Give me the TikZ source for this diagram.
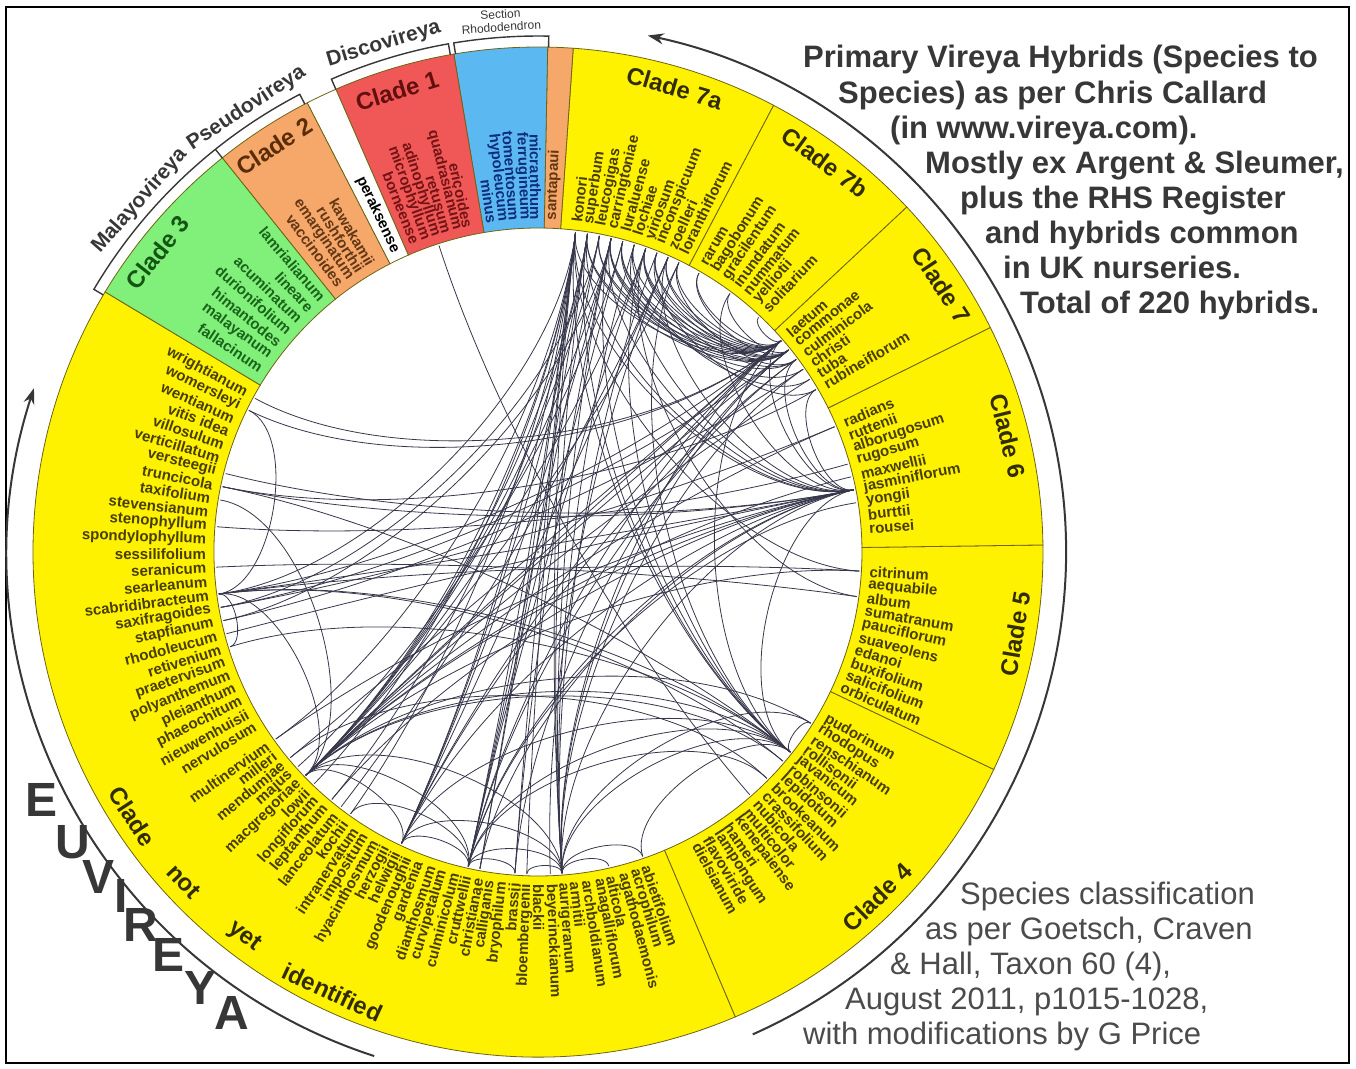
\documentclass[tikz,border=0pt]{standalone}
\usepackage{fontspec}
\setmainfont{Liberation Sans}
\usetikzlibrary{arrows.meta}

\definecolor{ringyellow}{RGB}{255,242,0}
\definecolor{cladegreen}{RGB}{128,240,122}
\definecolor{cladeorange}{RGB}{246,168,106}
\definecolor{cladered}{RGB}{240,88,88}
\definecolor{cladeblue}{RGB}{92,184,240}
\definecolor{ringline}{RGB}{110,100,20}
\definecolor{nameolive}{RGB}{72,62,0}
\definecolor{namegreen}{RGB}{25,100,25}
\definecolor{namebrown}{RGB}{100,55,20}
\definecolor{namered}{RGB}{115,20,20}
\definecolor{nameblue}{RGB}{15,45,125}
\definecolor{labelolive}{RGB}{50,45,0}
\definecolor{labelgreen}{RGB}{20,85,20}
\definecolor{labelbrown}{RGB}{90,45,10}
\definecolor{labelred}{RGB}{100,15,15}
\definecolor{chordgrey}{RGB}{55,55,75}
\definecolor{textgrey}{RGB}{55,55,55}

\tikzset{
  sector/.style={draw=ringline, line width=0.8pt},
  species/.style={font=\bfseries\fontsize{15}{15}\selectfont, inner sep=0pt},
  cladelabel/.style={font=\bfseries\fontsize{24}{24}\selectfont, inner sep=0pt},
  bracketlabel/.style={font=\bfseries\fontsize{21}{21}\selectfont, text=textgrey, inner sep=0pt},
  smalllabel/.style={font=\fontsize{12}{12}\selectfont, text=textgrey, inner sep=0pt},
  hybrid/.style={draw=chordgrey, line width=0.8pt},
  bracket/.style={draw=textgrey, line width=1.4pt},
  title/.style={font=\bfseries\fontsize{31}{31}\selectfont, text=textgrey, anchor=base west, inner sep=0pt},
  source/.style={font=\fontsize{31}{31}\selectfont, text=textgrey!90, anchor=base west, inner sep=0pt},
  bigletter/.style={font=\bfseries\fontsize{48}{48}\selectfont, text=textgrey, inner sep=0pt}
}

\def\ringin{324}
\def\ringout{505}

% one coloured piece of the ring
\newcommand{\cladesector}[3]{%
  \filldraw[sector, fill=#3] (#1:\ringin) arc[start angle=#1, end angle=#2, radius=\ringin]
    -- (#2:\ringout) arc[start angle=#2, end angle=#1, radius=\ringout] -- cycle;}

% radial names: first angle, step, colour, names
\newcommand{\specieslist}[4]{%
  \foreach \nm [count=\k from 0] in {#4}{%
    \pgfmathsetmacro\ang{#1+(#2)*\k}%
    \expandafter\xdef\csname va@\nm\endcsname{\ang}%
    \coordinate (\nm) at (\ang:322);
    \pgfmathtruncatemacro\lefthalf{(mod(\ang+360,360)>90)&&(mod(\ang+360,360)<270)}%
    \ifnum\lefthalf=1
      \node[species, text=#3, rotate=\ang-180, anchor=east] (\nm-t) at (\ang:332) {\nm};
    \else
      \node[species, text=#3, rotate=\ang, anchor=west] (\nm-t) at (\ang:332) {\nm};
    \fi}}

% one hybrid between two species
\newcommand{\hyb}[2]{%
  \pgfmathsetmacro\hA{\csname va@#1\endcsname}%
  \pgfmathsetmacro\hB{\csname va@#2\endcsname}%
  \pgfmathsetmacro\hC{322*(1-0.6*abs(sin(((\hB)-(\hA))/2)))}%
  \draw[hybrid] (#1) .. controls (\hA:\hC) and (\hB:\hC) .. (#2);}

\begin{document}
\begin{tikzpicture}[x=1pt, y=1pt,
  arrowarc/.style={draw=textgrey, line width=2pt, -{Stealth[length=16pt,width=11pt]}}]
\useasboundingbox (-538,-516) rectangle (818,552);
\draw[line width=1.6pt] (-532,545) rectangle (811,-511);

% ring
\cladesector{149}{293}{ringyellow}
\cladesector{-67}{-25.5}{ringyellow}
\cladesector{-25.5}{0.8}{ringyellow}
\cladesector{0.8}{26.4}{ringyellow}
\cladesector{26.4}{43.1}{ringyellow}
\cladesector{43.1}{62.2}{ringyellow}
\cladesector{62.2}{86}{ringyellow}
\cladesector{86}{88.9}{cladeorange}
\cladesector{88.9}{99.6}{cladeblue}
\cladesector{99.6}{113.6}{cladered}
\cladesector{113.6}{117.2}{white}
\cladesector{117.2}{128.7}{cladeorange}
\cladesector{128.7}{149}{cladegreen}

% names
\specieslist{151.5}{2.4}{nameolive}{wrightianum,womersleyi,wentianum,vitis idea,villosulum,
verticillatum,versteegii,truncicola,taxifolium,stevensianum,stenophyllum,spondylophyllum,
sessilifolium,seranicum,searleanum,scabridibracteum,saxifragoides,stapfianum,rhodoleucum,
retivenium,praetervisum,polyanthemum,pleianthum,phaeochitum,nieuwenhuisii,nervulosum}
\specieslist{215.5}{2.1}{nameolive}{multinervium,milleri,mendumiae,majus,macgregoriae,lowii,
longiflorum,leptanthum,lanceolatum,kochii,intranervatum,impositum,hyacinthosmum,herzogii,
helwigii,goodenoughii,gardenia,dianthosmum,curvipetalum,culminicolum,cruttwellii,christianae,
calliganis,bryophilum,brassii,bloembergenii,blackii,beyerinckianum,aurigeranum,armitii,
archboldianum,anagalliflorum,alticola,agathodaemonis,acrophilum,abietifolium}
\specieslist{-30}{-2.1}{nameolive}{pudorinum,rhodopus,renschianum,rollisonii,javanicum,
robinsonii,lepidotum,brookeanum,crassifolium,nubicola,multicolor,kenepaiense,hameri,
lampongum,flavoviride,dielsianum}
\specieslist{-3.4}{-2.28}{nameolive}{citrinum,aequabile,album,sumatranum,pauciflorum,
suaveolens,edanoi,buxifolium,salicifolium,orbiculatum}
\specieslist{22.9}{-2.35}{nameolive}{radians,ruttenii,alborugosum,rugosum,maxwellii,
jasminiflorum,yongii,burttii,rousei}
\specieslist{41}{-2.14}{nameolive}{laetum,commonae,culminicola,christi,tuba,rubineiflorum}
\specieslist{60}{-2.2}{nameolive}{rarum,bagobonum,gracilentum,inundatum,nummatum,yelliotii,solitarium}
\specieslist{83.3}{-2.14}{nameolive}{konori,superbum,leucogigas,carringtoniae,luraluense,
lochiae,viriosum,inconspicuum,zoelleri,loranthiflorum}
\specieslist{87.6}{0}{namebrown}{santapaui}
\specieslist{90.4}{1.9}{nameblue}{micranthum,ferrugineum,tomentosum,hypoleucum,minus}
\specieslist{102.2}{1.9}{namered}{ericoides,quadrasianum,retusum,adinophyllum,microphyllum,borneense}
\specieslist{115.4}{0}{black}{peraksense}
\specieslist{120.2}{2.1}{namebrown}{kawakamii,rushforthii,emarginatum,vaccinoides}
\specieslist{130.5}{2.65}{namegreen}{lamrialianum,lineare,acuminatum,durionifolium,himantodes,
malayanum,fallacinum}

% clade labels
\node[cladelabel, text=labelgreen, rotate=51.8] (clade3) at (141.8:484) {Clade 3};
\node[cladelabel, text=labelbrown, rotate=33] (clade2) at (123:484) {Clade 2};
\node[cladelabel, text=labelred, rotate=17] (clade1) at (107:482) {Clade 1};
\node[cladelabel, text=labelolive, rotate=-16.4] (clade7a) at (73.6:484) {Clade 7a};
\node[cladelabel, text=labelolive, rotate=-36.4] (clade7b) at (53.6:484) {Clade 7b};
\node[cladelabel, text=labelolive, rotate=-56.5] (clade7) at (33.5:484) {Clade 7};
\node[cladelabel, text=labelolive, rotate=-76.1] (clade6) at (13.9:484) {Clade 6};
\node[cladelabel, text=labelolive, rotate=80.3] (clade5) at (-9.7:484) {Clade 5};
\node[cladelabel, text=labelolive, rotate=44.5] (clade4) at (-45.5:484) {Clade 4};
\node[cladelabel, text=labelolive, rotate=-56.9] (cladeu1) at (213.1:484) {Clade};
\node[cladelabel, text=labelolive, rotate=-47.1] (cladeu2) at (222.9:484) {not};
\node[cladelabel, text=labelolive, rotate=-37.4] (cladeu3) at (232.6:484) {yet};
\node[cladelabel, text=labelolive, rotate=-25] (cladeu4) at (245:486) {identified};

% brackets over the top clades
\draw[bracket] (149.4:505) -- (149.4:516) arc[start angle=149.4, end angle=117.5, radius=516] -- (117.5:505);
\draw[bracket] (128.7:505) -- (128.7:516);
\draw[bracket] (113.6:505) -- (113.6:516) arc[start angle=113.6, end angle=100, radius=516] -- (100:505);
\draw[bracket] (99.4:505) -- (99.4:516) arc[start angle=99.4, end angle=88.8, radius=516] -- (88.8:505);
\node[bracketlabel, rotate=48.6] (malayo) at (138.6:531) {Malayovireya};
\node[bracketlabel, rotate=33.3] (pseudo) at (123.3:531) {Pseudovireya};
\node[bracketlabel, rotate=16.9] (disco) at (106.9:531) {Discovireya};
\node[smalllabel, rotate=4] (sect) at (94:539) {Section};
\node[smalllabel, rotate=4] (rhodo) at (94:526) {Rhododendron};

% hybrids
\foreach \p/\q in {konori/macgregoriae,konori/helwigii,konori/cruttwellii,konori/aurigeranum,
  konori/bloembergenii,konori/scabridibracteum,konori/javanicum,konori/laetum,konori/jasminiflorum,
  konori/lowii,konori/kochii,konori/citrinum,konori/multinervium,konori/christianae,konori/brassii,
  superbum/macgregoriae,superbum/aurigeranum,superbum/christianae,superbum/laetum,superbum/commonae,
  superbum/jasminiflorum,superbum/javanicum,superbum/helwigii,superbum/leptanthum,
  leucogigas/laetum,leucogigas/commonae,leucogigas/cruttwellii,leucogigas/macgregoriae,leucogigas/saxifragoides,
  carringtoniae/laetum,carringtoniae/commonae,carringtoniae/culminicola,carringtoniae/jasminiflorum,
  carringtoniae/aurigeranum,carringtoniae/helwigii,carringtoniae/macgregoriae,carringtoniae/javanicum,
  carringtoniae/brassii,carringtoniae/stapfianum,
  luraluense/laetum,luraluense/commonae,luraluense/christi,luraluense/cruttwellii,luraluense/majus,
  lochiae/laetum,lochiae/tuba,lochiae/jasminiflorum,lochiae/aurigeranum,
  viriosum/laetum,viriosum/commonae,viriosum/culminicola,viriosum/macgregoriae,viriosum/cruttwellii,
  viriosum/javanicum,viriosum/album,
  inconspicuum/laetum,inconspicuum/commonae,inconspicuum/rubineiflorum,inconspicuum/aurigeranum,
  zoelleri/laetum,zoelleri/commonae,zoelleri/jasminiflorum,zoelleri/helwigii,zoelleri/lanceolatum,
  zoelleri/beyerinckianum,
  loranthiflorum/laetum,loranthiflorum/culminicola,loranthiflorum/macgregoriae,loranthiflorum/javanicum,
  rarum/laetum,rarum/commonae,inundatum/commonae,inundatum/jasminiflorum,solitarium/laetum,
  laetum/macgregoriae,laetum/cruttwellii,laetum/aurigeranum,laetum/helwigii,laetum/scabridibracteum,
  laetum/womersleyi,laetum/jasminiflorum,laetum/javanicum,laetum/mendumiae,
  commonae/macgregoriae,commonae/aurigeranum,commonae/saxifragoides,commonae/brassii,
  culminicola/cruttwellii,culminicola/helwigii,culminicola/jasminiflorum,
  christi/aurigeranum,christi/stapfianum,tuba/macgregoriae,rubineiflorum/jasminiflorum,rubineiflorum/truncicola,
  jasminiflorum/macgregoriae,jasminiflorum/scabridibracteum,jasminiflorum/versteegii,jasminiflorum/truncicola,
  jasminiflorum/helwigii,jasminiflorum/cruttwellii,jasminiflorum/aurigeranum,jasminiflorum/javanicum,
  jasminiflorum/multinervium,jasminiflorum/rhodoleucum,jasminiflorum/christianae,jasminiflorum/leptanthum,
  radians/saxifragoides,radians/macgregoriae,rugosum/stenophyllum,maxwellii/macgregoriae,yongii/cruttwellii,
  citrinum/scabridibracteum,citrinum/macgregoriae,album/seranicum,
  javanicum/macgregoriae,javanicum/cruttwellii,javanicum/aurigeranum,javanicum/helwigii,
  javanicum/scabridibracteum,javanicum/truncicola,javanicum/retivenium,javanicum/abietifolium,javanicum/rhodopus,
  rhodopus/macgregoriae,rhodopus/aurigeranum,robinsonii/macgregoriae,robinsonii/scabridibracteum,
  brookeanum/cruttwellii,brookeanum/mendumiae,
  macgregoriae/aurigeranum,macgregoriae/cruttwellii,macgregoriae/helwigii,macgregoriae/scabridibracteum,
  macgregoriae/taxifolium,
  aurigeranum/cruttwellii,aurigeranum/helwigii,aurigeranum/bloembergenii,aurigeranum/abietifolium,
  aurigeranum/alticola,cruttwellii/helwigii,cruttwellii/brassii,kochii/cruttwellii,
  scabridibracteum/womersleyi,scabridibracteum/retivenium,wrightianum/laetum,adinophyllum/nubicola}
  {\hyb{\p}{\q}}
\fill[chordgrey!60] (0,0) circle (1.5);

% direction arrows
\draw[arrowarc] (-66:528) arc[start angle=-66, end angle=78, radius=528];
\draw[arrowarc] (252:530) arc[start angle=252, end angle=162, radius=530];

% EUVIREYA
\foreach \lt/\px/\py [count=\i] in {E/-496/-248,U/-465/-290,V/-439/-325,I/-417/-344,
  R/-397/-373,E/-369/-403,Y/-337/-436,A/-306/-461}
  \node[bigletter] (eu\i) at (\px,\py) {\lt};

% notes
\node[title] (t1) at (265,484) {Primary Vireya Hybrids (Species to};
\node[title] (t2) at (300,448) {Species) as per Chris Callard};
\node[title] (t3) at (352,413) {(in www.vireya.com).};
\node[title] (t4) at (387,378) {Mostly ex Argent \& Sleumer,};
\node[title] (t5) at (422,343) {plus the RHS Register};
\node[title] (t6) at (447,308) {and hybrids common};
\node[title] (t7) at (465,273) {in UK nurseries.};
\node[title] (t8) at (482,238) {Total of 220 hybrids.};
\node[source] (s1) at (422,-352) {Species classification};
\node[source] (s2) at (387,-387) {as per Goetsch, Craven};
\node[source] (s3) at (352,-422) {\& Hall, Taxon 60 (4),};
\node[source] (s4) at (307,-457) {August 2011, p1015-1028,};
\node[source] (s5) at (265,-492) {with modifications by G Price};
\end{tikzpicture}
\end{document}
